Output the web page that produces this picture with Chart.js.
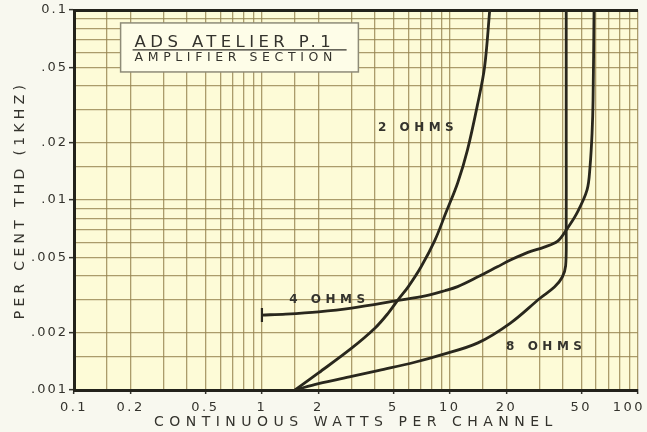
<!DOCTYPE html>
<html><head><meta charset="utf-8">
<script src="https://cdn.jsdelivr.net/npm/chart.js@4/dist/chart.umd.min.js"></script>
<style>html,body{margin:0;padding:0;background:#f8f8ef;}#wrap{width:647px;height:432px;}</style>
</head><body><div id="wrap"><canvas id="c" width="647" height="432"></canvas></div>
<script>
// ---- data ----
const xTickLabels = ['0.1','0.2','0.5','1','2','5','10','20','50','100'];
const yTickLabels = ['.001','.002','.005','.01','.02','.05','0.1'];
const seriesNames = ['2 OHMS','4 OHMS','8 OHMS'];

const watts2 = [1.5, 2.0, 3.0, 4.0, 4.7, 5.31, 6.0, 7.03, 8.33, 9.52, 11.0, 12.4, 14.1, 15.3, 16.3];
const thd2   = [0.001, 0.00123, 0.00166, 0.00212, 0.00254, 0.00299, 0.00349, 0.00445, 0.00615, 0.00856, 0.01229, 0.0183, 0.0325, 0.0501, 0.1];

const watts4 = [1, 1.34, 2.0, 3.0, 5.3, 7.4, 9.4, 11.0, 14.1, 17.9, 21.0, 26.0, 31.8, 37.3, 41.6, 47.5, 53.7, 55.7, 57.1, 57.8, 58.5];
const thd4   = [0.00248, 0.00251, 0.00258, 0.0027, 0.00296, 0.00313, 0.00333, 0.0035, 0.00394, 0.00445, 0.00483, 0.0053, 0.00565, 0.00605, 0.00695, 0.00856, 0.0113, 0.015, 0.0225, 0.0336, 0.1];

const watts8 = [1.5, 2.0, 3.0, 4.2, 6.5, 9.0, 14.1, 21.0, 30.3, 36.0, 39.6, 41.3, 41.6, 41.6, 41.6];
const thd8   = [0.001, 0.00108, 0.00118, 0.00127, 0.0014, 0.00153, 0.00177, 0.00225, 0.00305, 0.00348, 0.00392, 0.0045, 0.007, 0.02, 0.1];

const titleLines = ['ADS ATELIER P.1', 'AMPLIFIER SECTION'];
const xTitle = 'CONTINUOUS WATTS PER CHANNEL';
const yTitle = 'PER CENT THD (1KHZ)';

// ---- styling / layout ----
const FONT = '"DejaVu Sans", sans-serif';
const INK = '#34332d';
const CURVE = '#29271d';
const GRID = 'rgba(150,132,80,0.80)';
const gridSteps = [1, 1.5, 2, 3, 4, 5, 6, 7, 8, 9];

function logGrid(min, max) {
  const out = [];
  for (let e = Math.round(Math.log10(min)); e < Math.round(Math.log10(max)); e++) {
    for (const s of gridSteps) out.push(+(s * Math.pow(10, e)).toPrecision(4));
  }
  out.push(max);
  return out;
}
const xGrid = logGrid(0.1, 100);
const yGrid = logGrid(0.001, 0.1);

function findLabel(labels, v) {
  return labels.find(l => Math.abs(Math.log10(Number(l)) - Math.log10(v)) < 1e-6);
}

const pts = (xs, ys) => xs.map((x, i) => ({x, y: ys[i]}));

// annotation anchors (data coordinates)
const boxCorners = {x0: 0.177, x1: 3.26, y0: 0.0855, y1: 0.0472};
const curveLabelPos = [{x: 6.61, y: 0.0239}, {x: 2.23, y: 0.00299}, {x: 31.8, y: 0.00168}];

const bgPlugin = {
  id: 'bg',
  beforeDraw(chart) {
    const {ctx, chartArea: a} = chart;
    ctx.save();
    ctx.fillStyle = '#f8f8ef';
    ctx.fillRect(0, 0, chart.width, chart.height);
    ctx.fillStyle = '#fdfbd7';
    ctx.fillRect(a.left, a.top, a.right - a.left, a.bottom - a.top);
    ctx.restore();
    const wrap = (s, name, sp) => {
      if (!s || s['__w' + name]) return;
      const orig = s[name];
      s[name] = function (...args) {
        const c = this.ctx; const p = c.letterSpacing;
        c.letterSpacing = sp; orig.apply(this, args); c.letterSpacing = p;
      };
      s['__w' + name] = true;
    };
    wrap(chart.scales.x, 'drawLabels', '2.5px');
    wrap(chart.scales.y, 'drawLabels', '2px');
    wrap(chart.scales.x, 'drawTitle', '5.5px');
    wrap(chart.scales.y, 'drawTitle', '4.3px');
  }
};

const annoPlugin = {
  id: 'anno',
  afterDraw(chart) {
    const {ctx} = chart;
    const sx = chart.scales.x, sy = chart.scales.y;
    ctx.save();
    // title box
    const l = sx.getPixelForValue(boxCorners.x0), r = sx.getPixelForValue(boxCorners.x1);
    const t = sy.getPixelForValue(boxCorners.y0), b = sy.getPixelForValue(boxCorners.y1);
    ctx.fillStyle = '#fefde8';
    ctx.fillRect(l, t, r - l, b - t);
    ctx.strokeStyle = '#8e8b78';
    ctx.lineWidth = 1.5;
    ctx.strokeRect(l, t, r - l, b - t);
    ctx.fillStyle = INK;
    ctx.textAlign = 'left';
    ctx.textBaseline = 'alphabetic';
    ctx.letterSpacing = '4.4px';
    ctx.font = '16.5px ' + FONT;
    ctx.fillText(titleLines[0], l + 14, t + 24);
    ctx.strokeStyle = INK;
    ctx.lineWidth = 1.3;
    ctx.beginPath(); ctx.moveTo(l + 12, t + 27); ctx.lineTo(l + 226, t + 27); ctx.stroke();
    ctx.letterSpacing = '4.6px';
    ctx.font = '12.5px ' + FONT;
    ctx.fillText(titleLines[1], l + 14, t + 38);
    // curve labels
    ctx.font = 'bold 12px ' + FONT;
    ctx.letterSpacing = '4.5px';
    ctx.textAlign = 'center';
    ctx.textBaseline = 'middle';
    seriesNames.forEach((n, i) => {
      const p = curveLabelPos[i];
      ctx.fillText(n, sx.getPixelForValue(p.x) + 2, sy.getPixelForValue(p.y));
    });
    ctx.restore();
  }
};

const curveBase = {borderColor: CURVE, borderWidth: 2.8, pointRadius: 0, tension: 0.35, fill: false};

new Chart(document.getElementById('c'), {
  type: 'line',
  data: {
    datasets: [
      Object.assign({label: seriesNames[0], data: pts(watts2, thd2)}, curveBase),
      Object.assign({label: seriesNames[1], data: pts(watts4, thd4)}, curveBase, {
        pointRadius: c => c.dataIndex === 0 ? 7 : 0,
        pointStyle: 'line', pointRotation: 90, pointBorderWidth: 2.2,
        pointBorderColor: CURVE, pointBackgroundColor: CURVE
      }),
      Object.assign({label: seriesNames[2], data: pts(watts8, thd8)}, curveBase)
    ]
  },
  options: {
    responsive: false,
    animation: false,
    devicePixelRatio: 1,
    layout: {padding: {left: 0, right: 6, top: 10, bottom: 0}},
    plugins: {legend: {display: false}, tooltip: {enabled: false}},
    scales: {
      x: {
        type: 'logarithmic', position: 'bottom', min: 0.1, max: 100,
        afterBuildTicks: s => { s.ticks = xGrid.map(v => ({value: v})); },
        afterFit: s => { s.height = 42; s.paddingLeft = 0; s.paddingRight = 0; },
        ticks: {
          autoSkip: false, maxRotation: 0, minRotation: 0, padding: 6,
          color: INK, font: {family: FONT, size: 13},
          callback: (v) => {
            const l = findLabel(xTickLabels, v);
            if (!l) return '';
            return l === xTickLabels[xTickLabels.length - 1] ? l + '\u2002\u2002' : l;
          }
        },
        grid: {
          color: GRID, lineWidth: 1.3, tickLength: 4, tickWidth: 1.5,
          tickColor: c => (c.tick && findLabel(xTickLabels, c.tick.value)) ? INK : 'rgba(0,0,0,0)'
        },
        border: {display: true, color: '#23221b', width: 3},
        title: {display: true, text: xTitle, color: INK, font: {family: FONT, size: 14}, padding: {top: 0, bottom: 1}}
      },
      xTop: {
        type: 'logarithmic', position: 'top', min: 0.1, max: 100,
        afterFit: s => { s.height = 0; s.paddingLeft = 0; s.paddingRight = 0; },
        ticks: {display: false},
        grid: {display: false, drawTicks: false},
        border: {display: true, color: '#23221b', width: 3}
      },
      y: {
        type: 'logarithmic', position: 'left', min: 0.001, max: 0.1,
        afterBuildTicks: s => { s.ticks = yGrid.map(v => ({value: v})); },
        afterFit: s => { s.width = 74; s.paddingTop = 0; s.paddingBottom = 0; },
        ticks: {
          autoSkip: false, padding: 1, color: INK, font: {family: FONT, size: 13},
          callback: (v) => findLabel(yTickLabels, v) || ''
        },
        grid: {
          color: GRID, lineWidth: 1.3, tickLength: 5, tickWidth: 1.5,
          tickColor: c => (c.tick && findLabel(yTickLabels, c.tick.value)) ? INK : 'rgba(0,0,0,0)'
        },
        border: {display: true, color: '#23221b', width: 3},
        title: {display: true, text: yTitle, color: INK, font: {family: FONT, size: 14}, padding: {top: 12, bottom: 0}}
      }
    }
  },
  plugins: [bgPlugin, annoPlugin]
});
</script>
</body></html>
